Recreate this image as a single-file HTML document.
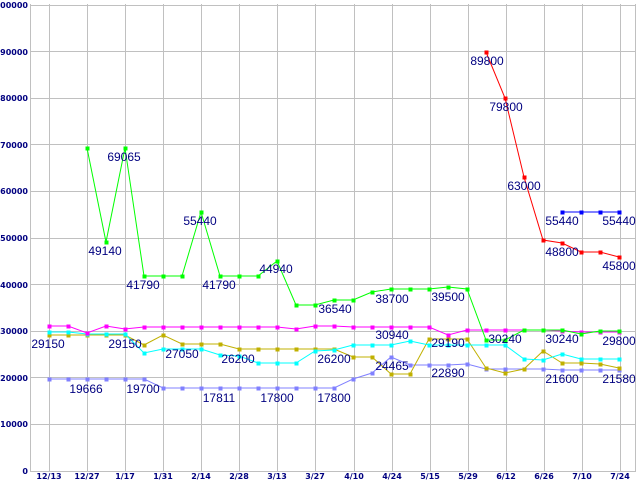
<!DOCTYPE html>
<html><head><meta charset="utf-8"><style>
html,body{margin:0;padding:0;background:#fff;}
svg{display:block;}
.ax{font-family:"DejaVu Sans","Liberation Sans",sans-serif;font-size:8px;font-weight:bold;fill:#000080;}
.lb{font-family:"Liberation Sans",sans-serif;font-size:12px;fill:#000080;}
</style></head><body>
<svg id="s" width="640" height="480" xmlns="http://www.w3.org/2000/svg">
<g id="grid" stroke="#c0c0c0" stroke-width="1"></g>
<g id="series"></g>
<g class="ax" text-anchor="end">
<text x="28" y="8">100000</text>
<text x="28" y="55">90000</text>
<text x="28" y="101">80000</text>
<text x="28" y="148">70000</text>
<text x="28" y="194">60000</text>
<text x="28" y="241">50000</text>
<text x="28" y="288">40000</text>
<text x="28" y="334">30000</text>
<text x="28" y="381">20000</text>
<text x="28" y="427">10000</text>
<text x="28" y="474">0</text>
</g>
<g class="ax" text-anchor="middle">
<text x="49" y="479">12/13</text><text x="87" y="479">12/27</text><text x="125" y="479">1/17</text><text x="163" y="479">1/31</text>
<text x="201" y="479">2/14</text><text x="239" y="479">2/28</text><text x="277" y="479">3/13</text><text x="315" y="479">3/27</text>
<text x="354" y="479">4/10</text><text x="392" y="479">4/24</text><text x="430" y="479">5/15</text><text x="468" y="479">5/29</text>
<text x="506" y="479">6/12</text><text x="544" y="479">6/26</text><text x="582" y="479">7/10</text><text x="620" y="479">7/24</text>
</g>
<g class="lb" text-anchor="middle" dominant-baseline="central">
<text x="48" y="344">29150</text><text x="125" y="344">29150</text>
<text x="86" y="389">19666</text><text x="143" y="389">19700</text>
<text x="182" y="354">27050</text><text x="238" y="359">26200</text>
<text x="219" y="398">17811</text><text x="277" y="398">17800</text><text x="334" y="398">17800</text>
<text x="334" y="359">26200</text><text x="335" y="309">36540</text>
<text x="392" y="299">38700</text><text x="448" y="297">39500</text>
<text x="392" y="335">30940</text><text x="392" y="366">24465</text>
<text x="448" y="343">29190</text><text x="448" y="373">22890</text>
<text x="505" y="339">30240</text><text x="562" y="339">30240</text><text x="619" y="341">29800</text>
<text x="562" y="379">21600</text><text x="619" y="379">21580</text>
<text x="124" y="157">69065</text><text x="105" y="251">49140</text>
<text x="143" y="285">41790</text><text x="200" y="221">55440</text><text x="219" y="285">41790</text>
<text x="276" y="269">44940</text>
<text x="487" y="61">89800</text><text x="506" y="107">79800</text><text x="524" y="186">63000</text>
<text x="562" y="221">55440</text><text x="619" y="221">55440</text>
<text x="562" y="252">48800</text><text x="619" y="266">45800</text>
</g>
</svg>
<script>
var NS="http://www.w3.org/2000/svg";
var g=document.getElementById("grid");
function ln(x1,y1,x2,y2){var l=document.createElementNS(NS,"line");l.setAttribute("x1",x1);l.setAttribute("y1",y1);l.setAttribute("x2",x2);l.setAttribute("y2",y2);g.appendChild(l);}
for(var k=0;k<=10;k++){var y=Math.round(470.5-k*46.6)+0.5;ln(30,y,636,y);}
ln(30.5,4,30.5,471);
for(var i=0;i<16;i++){var x=[49,87,125,163,201,239,277,315,354,392,430,468,506,544,582,620][i]+0.5;ln(x,4,x,471);}
ln(635.5,4,635.5,471);
var S=document.getElementById("series");
function X(i){return 49+19*i;}
function ser(col,start,ys){
 var pts=[];for(var j=0;j<ys.length;j++){pts.push(X(start+j)+","+ys[j]);}
 var p=document.createElementNS(NS,"polyline");p.setAttribute("points",pts.join(" "));p.setAttribute("fill","none");p.setAttribute("stroke",col);p.setAttribute("stroke-width","1");S.appendChild(p);
 for(var j=0;j<ys.length;j++){var r=document.createElementNS(NS,"rect");r.setAttribute("x",X(start+j)-1.5);r.setAttribute("y",ys[j]-1.5);r.setAttribute("width",4);r.setAttribute("height",4);r.setAttribute("fill",col);S.appendChild(r);}
}
ser("#8080ff",0,[379,379,379,379,379,379,388,388,388,388,388,388,388,388,388,388,379,373,357,365,365,365,364,369,369,369,369,370,370,370,370]);
ser("#c0b000",0,[335,335,335,335,335,345,335,344,344,344,349,349,349,349,349,349,357,357,374,374,339,339,339,368,373,369,351,363,363,364,368]);
ser("#00ffff",0,[332,332,334,334,334,353,349,349,349,355,356,363,363,363,351,350,345,345,345,341,345,345,345,345,345,359,360,354,359,359,359]);
ser("#ff00ff",0,[326,326,333,326,329,327,327,327,327,327,327,327,327,329,326,326,327,327,327,327,327,335,330,330,330,330,330,331,332,332,332]);
ser("#00ff00",2,[148,242,148,276,276,276,212,276,276,276,261,305,305,300,300,292,289,289,289,287,289,340,340,330,330,330,334,331,331]);
ser("#ff0000",23,[52,98,177,240,243,252,252,257]);
ser("#0000ff",27,[212,212,212,212]);
</script>
</body></html>
